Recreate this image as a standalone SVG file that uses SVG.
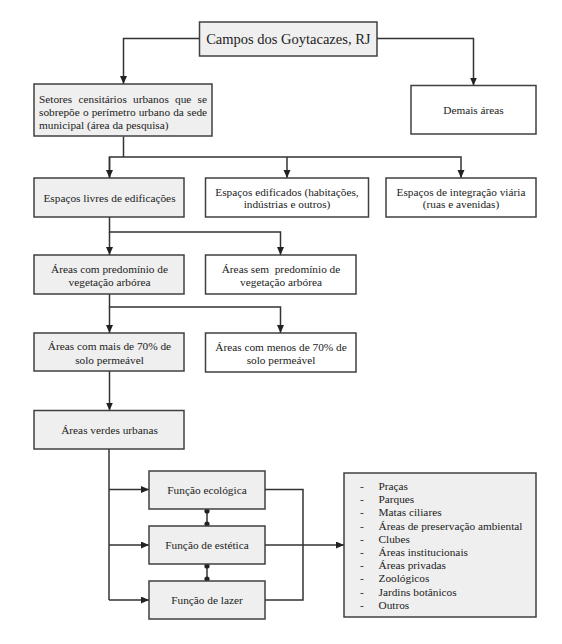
<svg xmlns="http://www.w3.org/2000/svg" width="562" height="644" viewBox="0 0 562 644">
<style>
.box{stroke:#404040;stroke-width:1.5}
.g{fill:#efefef}
.w{fill:#ffffff}
text{font-size:11.3px;fill:#222}
.c{text-anchor:middle}
.con{fill:none;stroke:#333;stroke-width:1.5}
.dot{fill:#222}
</style>
<defs>
<marker id="ar" markerUnits="userSpaceOnUse" markerWidth="9" markerHeight="8" refX="8" refY="3.5" orient="auto">
<path d="M0,0 L8,3.5 L0,7 z" fill="#222"/>
</marker>
</defs>
<rect width="562" height="644" fill="#ffffff"/>

<g id="connectors">
<polyline class="con" points="199.5,38.5 123.5,38.5 123.5,84" marker-end="url(#ar)"/>
<polyline class="con" points="377,38.5 473.5,38.5 473.5,85.5" marker-end="url(#ar)"/>
<polyline class="con" points="123.5,136.5 123.5,157"/>
<polyline class="con" points="109.5,178 109.5,157 461,157 461,178" marker-end="url(#ar)"/>
<polyline class="con" points="109.5,157 109.5,178" marker-end="url(#ar)"/>
<polyline class="con" points="287,157 287,178" marker-end="url(#ar)"/>
<polyline class="con" points="109.5,217 109.5,232 280.5,232 280.5,255" marker-end="url(#ar)"/>
<polyline class="con" points="109.5,232 109.5,255" marker-end="url(#ar)"/>
<polyline class="con" points="109.5,294 109.5,307 280.5,307 280.5,333" marker-end="url(#ar)"/>
<polyline class="con" points="109.5,307 109.5,333" marker-end="url(#ar)"/>
<polyline class="con" points="109.5,371 109.5,410.5" marker-end="url(#ar)"/>
<polyline class="con" points="109,449 109,600"/>
<polyline class="con" points="109,489.5 149,489.5" marker-end="url(#ar)"/>
<polyline class="con" points="109,545 149,545" marker-end="url(#ar)"/>
<polyline class="con" points="109,600 149,600" marker-end="url(#ar)"/>
<polyline class="con" points="265,489.5 303,489.5 303,600 265,600"/>
<polyline class="con" points="265,545 344,545" marker-end="url(#ar)"/>
<line class="con" x1="207" y1="509" x2="207" y2="526"/>
<line class="con" x1="207" y1="564" x2="207" y2="581"/>
<circle class="dot" cx="207" cy="511" r="2.6"/>
<circle class="dot" cx="207" cy="524" r="2.6"/>
<circle class="dot" cx="207" cy="566" r="2.6"/>
<circle class="dot" cx="207" cy="579" r="2.6"/>
</g>

<g font-family="'Liberation Serif', 'Times New Roman', Times, 'DejaVu Serif', serif">
<g id="n-campos">
<rect class="box g" x="199.5" y="22" width="177.5" height="34"/>
<text class="c" x="288.3" y="44" style="font-size:14.5px">Campos dos Goytacazes, RJ</text>
</g>

<g id="n-setores">
<rect class="box g" x="34" y="84" width="178" height="52"/>
<text x="39" y="103" style="word-spacing:3.4px">Setores censitários urbanos que se</text>
<text x="39" y="116" style="word-spacing:0.3px">sobrepõe o perímetro urbano da sede</text>
<text x="39" y="129">municipal (área da pesquisa)</text>
</g>

<g id="n-demais">
<rect class="box w" x="411" y="85.5" width="125" height="48.5"/>
<text class="c" x="473.5" y="114">Demais áreas</text>
</g>

<g id="n-livres">
<rect class="box g" x="34" y="178" width="150" height="39"/>
<text class="c" x="109.5" y="202">Espaços livres de edificações</text>
</g>

<g id="n-edificados">
<rect class="box w" x="205.5" y="178" width="163" height="39"/>
<text class="c" x="287" y="195.5">Espaços edificados (habitações,</text>
<text class="c" x="287" y="208">indústrias e outros)</text>
</g>

<g id="n-viaria">
<rect class="box w" x="386" y="178" width="150" height="39"/>
<text class="c" x="461" y="195.5">Espaços de integração viária</text>
<text class="c" x="461" y="208">(ruas e avenidas)</text>
</g>

<g id="n-com-predominio">
<rect class="box g" x="34" y="255" width="150" height="39"/>
<text class="c" x="109.5" y="272.5">Áreas com predomínio de</text>
<text class="c" x="109.5" y="285.5">vegetação arbórea</text>
</g>

<g id="n-sem-predominio">
<rect class="box w" x="205.5" y="255" width="150.5" height="39"/>
<text class="c" x="281" y="272.5" style="white-space:pre">Áreas sem  predomínio de</text>
<text class="c" x="281" y="285.5">vegetação arbórea</text>
</g>

<g id="n-mais70">
<rect class="box g" x="34" y="333" width="150" height="38"/>
<text class="c" x="109.5" y="350">Áreas com mais de 70% de</text>
<text class="c" x="109.5" y="363.5">solo permeável</text>
</g>

<g id="n-menos70">
<rect class="box w" x="205.5" y="333" width="150.5" height="39"/>
<text class="c" x="281" y="350.5">Áreas com menos de 70% de</text>
<text class="c" x="281" y="364">solo permeável</text>
</g>

<g id="n-verdes">
<rect class="box g" x="34" y="410.5" width="150" height="38.5"/>
<text class="c" x="109.5" y="434">Áreas verdes urbanas</text>
</g>

<g id="n-ecologica">
<rect class="box g" x="149" y="471" width="116" height="38"/>
<text class="c" x="207" y="494">Função ecológica</text>
</g>

<g id="n-estetica">
<rect class="box g" x="149" y="526" width="116" height="38"/>
<text class="c" x="207" y="549">Função de estética</text>
</g>

<g id="n-lazer">
<rect class="box g" x="149" y="581" width="116" height="38"/>
<text class="c" x="207" y="604">Função de lazer</text>
</g>

<g id="n-lista">
<rect class="box g" x="344" y="473" width="192" height="144"/>
<text x="360" y="490">-</text><text x="378.5" y="490">Praças</text>
<text x="360" y="503.2">-</text><text x="378.5" y="503.2">Parques</text>
<text x="360" y="516.4">-</text><text x="378.5" y="516.4">Matas ciliares</text>
<text x="360" y="529.6">-</text><text x="378.5" y="529.6">Áreas de preservação ambiental</text>
<text x="360" y="542.8">-</text><text x="378.5" y="542.8">Clubes</text>
<text x="360" y="556">-</text><text x="378.5" y="556">Áreas institucionais</text>
<text x="360" y="569.2">-</text><text x="378.5" y="569.2">Áreas privadas</text>
<text x="360" y="582.4">-</text><text x="378.5" y="582.4">Zoológicos</text>
<text x="360" y="595.6">-</text><text x="378.5" y="595.6">Jardins botânicos</text>
<text x="360" y="608.8">-</text><text x="378.5" y="608.8">Outros</text>
</g>
</g>
</svg>
